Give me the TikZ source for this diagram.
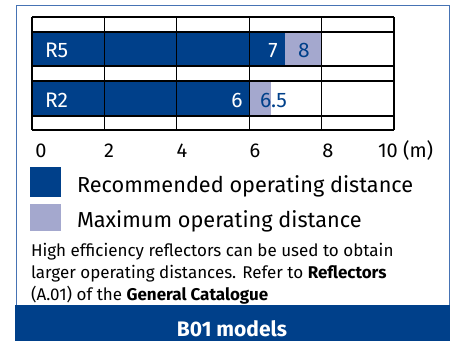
\documentclass[tikz,border=0pt]{standalone}
\usepackage{fontspec}
\setmainfont{Fira Sans}
\definecolor{recblue}{RGB}{0,64,138}
\definecolor{maxlilac}{RGB}{164,168,206}
\definecolor{frameblue}{RGB}{70,115,180}
\tikzset{
    every node/.style={inner sep=0pt, outer sep=0pt},
    gridline/.style={line width=1.2pt, black},
    barnum/.style={font=\fontsize{21}{24}\selectfont, anchor=base},
    axisnum/.style={font=\fontsize{20}{24}\selectfont, anchor=base},
    legendtext/.style={font=\fontsize{21.7}{26}\selectfont, anchor=base west},
    note/.style={font=\fontsize{17}{22}\selectfont, anchor=base west}
}

\begin{document}
\begin{tikzpicture}[x=1pt, y=-1pt]
        \useasboundingbox (0,0) rectangle (457,341);
        % frame and footer
        \draw[frameblue, line width=1pt] (16,306) -- (16,5) -- (449.5,5) -- (449.5,306);
        \fill[recblue] (15,305) rectangle (450,341);
        \node (title) [anchor=base, text=white, font=\fontsize{21}{24}\selectfont\bfseries] at (232,336) {B01 models};
        % bars
        \fill[recblue] (32,32) rectangle (285.4,66);
        \fill[maxlilac] (285.4,32) rectangle (321.6,66);
        \fill[recblue] (32,81) rectangle (249.2,116);
        \fill[maxlilac] (249.2,81) rectangle (271,116);
        % grid
        \foreach \y in {17,32,66,81,116,130}
                \draw[gridline] (32,\y) -- (394,\y);
        \foreach \x in {32,104.4,176.8,249.2,321.6,394}
                \draw[gridline] (\x,17) -- (\x,130);
        % bar labels
        \node (r5) [barnum, anchor=base west, text=white] at (45,57) {R5};
        \node (r2) [barnum, anchor=base west, text=white] at (45,107) {R2};
        \node (r5rec) [barnum, text=white] at (273,57) {7};
        \node (r5max) [barnum, text=recblue] at (304,57) {8};
        \node (r2rec) [barnum, text=white] at (237,107) {6};
        \node (r2max) [barnum, text=recblue] at (273.5,107) {6.5};
        % axis
        \node (a0) [axisnum] at (41,157) {0};
        \node (a2) [axisnum] at (109,157) {2};
        \node (a4) [axisnum] at (182,157) {4};
        \node (a6) [axisnum] at (255,157) {6};
        \node (a8) [axisnum] at (328,157) {8};
        \node (a10) [axisnum, anchor=base west] at (378,157) {10 (m)};
        % legend
        \fill[recblue] (30,167) rectangle (61,197);
        \fill[maxlilac] (30,204) rectangle (61,231);
        \node (rec) [legendtext] at (77,192) {Recommended operating distance};
        \node (max) [legendtext] at (77,227) {Maximum operating distance};
        % note
        \node (n1) [note] at (31,256) {High efficiency reflectors can be used to obtain};
        \node (n2) [note] at (31,278) {larger operating distances. Refer to \textbf{Reflectors}};
        \node (n3) [note] at (31,300) {(A.01) of the \textbf{General Catalogue}};
\end{tikzpicture}
\end{document}
